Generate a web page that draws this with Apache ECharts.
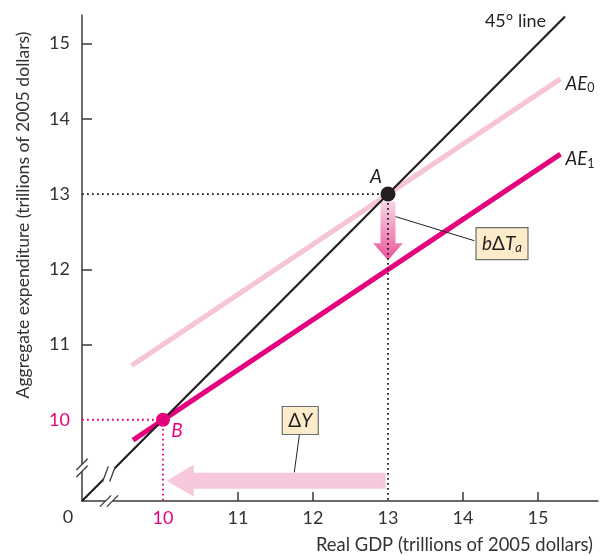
<!DOCTYPE html>
<html><head><meta charset="utf-8">
<script src="https://cdn.jsdelivr.net/npm/echarts@6/dist/echarts.min.js"></script>
<style>html,body{margin:0;padding:0;background:#fff}#c{width:603px;height:556px}</style>
</head><body><div id="c"></div>
<script>
// ---- data ----
const axisMin = 8.92;
const xTickLabels = [10, 11, 12, 13, 14, 15];
const yTickLabels = [10, 11, 12, 13, 14, 15];
const xTickMarks = [11, 12, 14, 15];
const yTickMarks = [11, 12, 14, 15];
const line45 = [[8.92, 8.92], [15.36, 15.36]];
const ae0 = [[9.58, 10.72], [15.3, 14.53]];
const ae1 = [[9.6, 9.73], [15.3, 13.53]];
const pointA = [13, 13];
const pointB = [10, 10];
const guideA = [[8.92, 13], [13, 13], [13, 8.92]];
const guideB = [[8.92, 10], [10, 10], [10, 8.92]];
const taxArrow = [13, 12.9, 13, 12.12];      // from (x,y) to (x,y)
const dyArrow = [12.97, 9.19, 10.05, 9.19];
const boxTax = [14.52, 12.34];
const boxTaxLeader = [[14.15, 12.38], [13.1, 12.7]];
const boxDY = [11.83, 9.99];
const boxDYLeader = [[11.82, 9.81], [11.75, 9.3]];
const breakY = 9.36, breakX = 9.36, break45 = 9.28;

const MAG = '#e5007d', PINK = '#f6c4d8', INK = '#231f20', FONT = 'Lato';

const chart = echarts.init(document.getElementById('c'));

function arrowItem(params, api) {
  const p0 = api.coord([api.value(0), api.value(1)]);
  const p1 = api.coord([api.value(2), api.value(3)]);
  const dx = p1[0] - p0[0], dy = p1[1] - p0[1];
  const L = Math.hypot(dx, dy), ux = dx / L, uy = dy / L, nx = -uy, ny = ux;
  const vertical = Math.abs(dy) > Math.abs(dx);
  const bw = vertical ? 7.5 : 8, hw = vertical ? 15 : 16, hl = vertical ? 17 : 27;
  const hb = [p1[0] - ux * hl, p1[1] - uy * hl];
  const pts = [
    [p0[0] + nx * bw, p0[1] + ny * bw], [hb[0] + nx * bw, hb[1] + ny * bw],
    [hb[0] + nx * hw, hb[1] + ny * hw], p1,
    [hb[0] - nx * hw, hb[1] - ny * hw], [hb[0] - nx * bw, hb[1] - ny * bw],
    [p0[0] - nx * bw, p0[1] - ny * bw]
  ];
  const fill = vertical ? new echarts.graphic.LinearGradient(0, 0, 0, 1, [
    { offset: 0, color: '#f9d6e5' }, { offset: 1, color: '#e8559b' }]) : '#f7c8dc';
  return { type: 'polygon', shape: { points: pts }, style: { fill: fill } };
}

function boxItem(text, w, h) {
  return function (params, api) {
    const c = api.coord([api.value(0), api.value(1)]);
    return {
      type: 'group', children: [
        { type: 'rect', shape: { x: c[0] - w / 2, y: c[1] - h / 2, width: w, height: h },
          style: { fill: '#fcecca', stroke: '#6d6e71', lineWidth: 1.2 } },
        { type: 'text', x: c[0], y: c[1], style: {
          text: text, align: 'center', verticalAlign: 'middle',
          rich: {
            i: { fontFamily: FONT, fontStyle: 'italic', fontSize: 19, fill: INK },
            n: { fontFamily: FONT, fontSize: 19, fill: INK },
            s: { fontFamily: FONT, fontStyle: 'italic', fontSize: 13, fill: INK, padding: [9, 0, 0, 0] }
          } } }
      ]
    };
  };
}

const subRich = {
  i: { fontFamily: FONT, fontStyle: 'italic', fontSize: 18.5, color: INK },
  s: { fontFamily: FONT, fontSize: 12.5, color: INK, padding: [9, 0, 0, 0] }
};

const option = {
  animation: false,
  grid: { left: 82, right: 5, top: 15, bottom: 55 },
  xAxis: {
    type: 'value', min: axisMin, max: 15.8,
    splitLine: { show: false },
    axisLine: { lineStyle: { color: '#3a3a3a', width: 1.5 } },
    axisTick: { inside: true, length: 9, customValues: xTickMarks, lineStyle: { color: '#3a3a3a', width: 1.5 } },
    axisLabel: { customValues: xTickLabels, margin: 8, fontFamily: FONT, fontSize: 18,
      color: v => (+v === 10 ? MAG : '#333') }
  },
  yAxis: {
    type: 'value', min: axisMin, max: 15.38,
    splitLine: { show: false },
    axisLine: { lineStyle: { color: '#3a3a3a', width: 1.5 } },
    axisTick: { inside: true, length: 10, customValues: yTickMarks, lineStyle: { color: '#3a3a3a', width: 1.5 } },
    axisLabel: { customValues: yTickLabels, margin: 12, fontFamily: FONT, fontSize: 18,
      color: v => (+v === 10 ? MAG : '#333') }
  },
  series: [
    { type: 'custom', z: 1, renderItem: arrowItem, data: [taxArrow, dyArrow] },
    { type: 'line', z: 2, data: ae0, showSymbol: false, lineStyle: { color: PINK, width: 5 },
      endLabel: { show: true, formatter: '{i|AE}{s|0}', rich: subRich, offset: [-3, 5] } },
    { type: 'line', z: 2, data: ae1, showSymbol: false, lineStyle: { color: MAG, width: 5 },
      endLabel: { show: true, formatter: '{i|AE}{s|1}', rich: subRich, offset: [-3, 5] } },
    { type: 'line', z: 3, data: line45, showSymbol: false, lineStyle: { color: INK, width: 2.2 },
      endLabel: { show: true, formatter: '45° line', fontFamily: FONT, fontSize: 18, color: INK,
        align: 'right', offset: [-27, 5] } },
    { type: 'line', z: 4, data: guideA, showSymbol: false, lineStyle: { color: INK, width: 1.8, type: [1.8, 3.2] } },
    { type: 'line', z: 4, data: guideB, showSymbol: false, lineStyle: { color: MAG, width: 1.8, type: [1.8, 3.2] } },
    { type: 'line', z: 4, data: boxTaxLeader, showSymbol: false, lineStyle: { color: INK, width: 1 } },
    { type: 'line', z: 4, data: boxDYLeader, showSymbol: false, lineStyle: { color: INK, width: 1 } },
    { type: 'scatter', z: 5, data: [pointA], symbolSize: 15, itemStyle: { color: INK, opacity: 1 },
      label: { show: true, formatter: 'A', position: 'inside', offset: [-12, -17], fontFamily: FONT,
        fontStyle: 'italic', fontSize: 19, color: INK } },
    { type: 'scatter', z: 5, data: [pointB], symbolSize: 14, itemStyle: { color: MAG, opacity: 1 },
      label: { show: true, formatter: 'B', position: 'inside', offset: [14, 11], fontFamily: FONT,
        fontStyle: 'italic', fontSize: 19, color: MAG } },
    { type: 'custom', z: 6, renderItem: boxItem('{i|b}{n|Δ}{i|T}{s|a}', 52, 32), data: [boxTax] },
    { type: 'custom', z: 6, renderItem: boxItem('{n|Δ}{i|Y}', 36, 28), data: [boxDY] }
  ]
};
chart.setOption(option);

// decorations: axis titles, origin label, axis breaks
const o = chart.convertToPixel({ gridIndex: 0 }, [axisMin, axisMin]);
const by = chart.convertToPixel({ gridIndex: 0 }, [axisMin, breakY]);
const bx = chart.convertToPixel({ gridIndex: 0 }, [breakX, axisMin]);
const bl = chart.convertToPixel({ gridIndex: 0 }, [break45, break45]);
function slashPair(cx, cy, horizontal, ang) {
  const out = [];
  const len = 8, gap = 3.5;
  const ca = Math.cos(ang), sa = Math.sin(ang);
  const offs = horizontal ? [gap, 0] : [0, gap];
  out.push({ type: 'polygon', z: 50, shape: { points: [
    [cx - offs[0] - len * ca, cy - offs[1] + len * sa], [cx - offs[0] + len * ca, cy - offs[1] - len * sa],
    [cx + offs[0] + len * ca, cy + offs[1] - len * sa], [cx + offs[0] - len * ca, cy + offs[1] + len * sa]] },
    style: { fill: '#fff' } });
  [-1, 1].forEach(s => out.push({ type: 'line', z: 51, shape: {
    x1: cx + s * offs[0] - len * ca, y1: cy + s * offs[1] + len * sa,
    x2: cx + s * offs[0] + len * ca, y2: cy + s * offs[1] - len * sa },
    style: { stroke: '#3a3a3a', lineWidth: 1.3 } }));
  return out;
}
chart.setOption({
  graphic: [
    { type: 'text', x: 23, y: 215, rotation: Math.PI / 2, z: 60, style: {
      text: 'Aggregate expenditure (trillions of 2005 dollars)', align: 'center', verticalAlign: 'middle',
      font: '17.6px ' + FONT, fill: '#333' } },
    { type: 'text', x: 593, y: 545, z: 60, style: {
      text: 'Real GDP (trillions of 2005 dollars)', align: 'right', verticalAlign: 'middle',
      font: '18.4px ' + FONT, fill: '#333' } },
    { type: 'text', x: o[0] - 14, y: o[1] + 16, z: 60, style: {
      text: '0', align: 'center', verticalAlign: 'middle', font: '18px ' + FONT, fill: '#333' } }
  ].concat(slashPair(by[0], by[1], false, Math.PI / 4))
   .concat(slashPair(bx[0] - 6, bx[1], true, Math.PI / 4))
   .concat(slashPair(bl[0], bl[1], true, Math.PI / 2.6))
});
</script></body></html>
